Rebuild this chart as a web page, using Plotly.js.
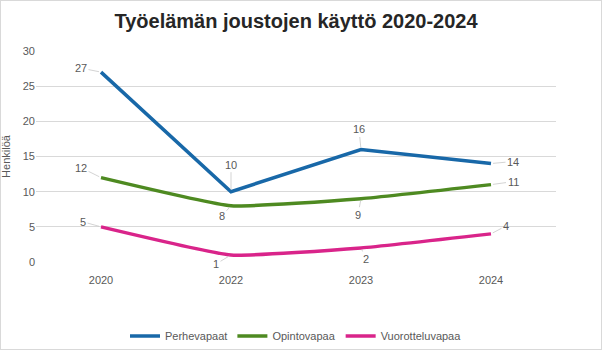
<!DOCTYPE html>
<html>
<head>
<meta charset="utf-8">
<script src="https://cdn.plot.ly/plotly-3.0.1.min.js"></script>
<style>
html,body{margin:0;padding:0;background:#fff;}
#wrap{position:relative;width:602px;height:350px;}
#chart{width:602px;height:350px;}
#frame{position:absolute;left:0;top:0;width:600px;height:348px;border:1px solid #d9d9d9;pointer-events:none;}
</style>
</head>
<body>
<div id="wrap"><div id="chart"></div><div id="frame"></div></div>
<script>
var years = ["2020", "2022", "2023", "2024"];
var perhevapaat = [27, 10, 16, 14];
var opintovapaa = [12, 8, 9, 11];
var vuorotteluvapaa = [5, 1, 2, 4];
var seriesNames = ["Perhevapaat", "Opintovapaa", "Vuorotteluvapaa"];
var seriesColors = ["#1868a8", "#4e8a21", "#d9248a"];

// label offsets (pixels) for data labels
var offX = [[-20, 0, -2, 22], [-20, -9, -3, 22], [-18, -15, 5, 15]];
var offY = [[-4, -27, -20, -2], [-10, 10, 16, -3], [-5, 9, 11, -8]];

var allSeries = [perhevapaat, opintovapaa, vuorotteluvapaa];
var shapes = ["linear", "spline", "spline"];

var traces = allSeries.map(function (vals, i) {
  return {
    x: years, y: vals, type: "scatter", mode: "lines", name: seriesNames[i],
    line: {color: seriesColors[i], width: 3.5, shape: shapes[i], smoothing: 0.4},
    hoverinfo: "skip"
  };
});

var annotations = [];
allSeries.forEach(function (vals, i) {
  vals.forEach(function (v, j) {
    annotations.push({
      x: j, y: v, xref: "x", yref: "y", text: String(v),
      showarrow: true, arrowhead: 0, arrowwidth: 0.8, arrowcolor: "#c8c8c8",
      ax: offX[i][j], ay: offY[i][j], standoff: 2,
      font: {family: "Liberation Sans, Arial, sans-serif", size: 11, color: "#595959"}
    });
  });
});

var layout = {
  width: 602, height: 350,
  margin: {l: 36, r: 46, t: 51, b: 88, autoexpand: false},
  paper_bgcolor: "#ffffff", plot_bgcolor: "#ffffff",
  title: {
    text: "<b>Työelämän joustojen käyttö 2020-2024</b>",
    x: 0.5, xref: "paper", xanchor: "center", y: 0.94, yanchor: "middle",
    font: {family: "Liberation Sans, Arial, sans-serif", size: 20, color: "#262626"}
  },
  xaxis: {
    type: "category", range: [-0.5, 3.5], showgrid: false, zeroline: false, showline: false,
    ticks: "", ticklabelstandoff: 10,
    tickfont: {family: "Liberation Sans, Arial, sans-serif", size: 11, color: "#595959"},
    fixedrange: true, automargin: false
  },
  yaxis: {
    range: [0, 30], dtick: 5, showgrid: true, gridcolor: "#d9d9d9", gridwidth: 1,
    zeroline: false, showline: false, ticks: "", ticklen: 0,
    tickfont: {family: "Liberation Sans, Arial, sans-serif", size: 11, color: "#595959"},
    title: {text: "Henkilöä", standoff: 12,
      font: {family: "Liberation Sans, Arial, sans-serif", size: 11, color: "#595959"}},
    fixedrange: true, automargin: false
  },
  legend: {
    orientation: "h", x: 0.5, xanchor: "center", yref: "container", y: 0.04, yanchor: "middle",
    font: {family: "Liberation Sans, Arial, sans-serif", size: 11, color: "#595959"},
    itemwidth: 30, tracegroupgap: 0
  },
  annotations: annotations,
  showlegend: true
};

Plotly.newPlot("chart", traces, layout, {displayModeBar: false, staticPlot: true});
</script>
</body>
</html>
